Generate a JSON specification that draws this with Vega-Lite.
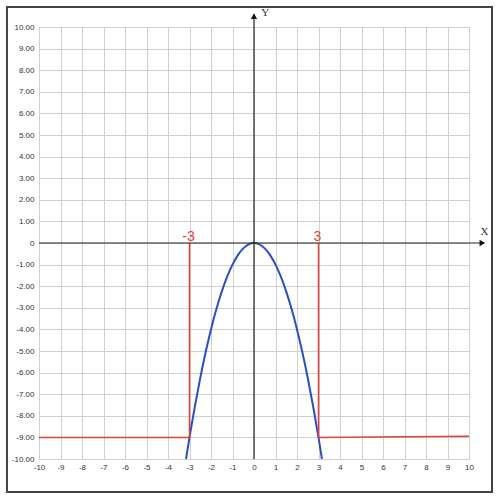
{
  "$schema": "https://vega.github.io/schema/vega-lite/v6.json",
  "width": 430,
  "height": 432,
  "autosize": {"type": "none"},
  "padding": {"left": 39, "top": 27, "right": 31, "bottom": 43},
  "background": "white",
  "config": {
    "view": {"stroke": "#d0d0d0"},
    "axis": {
      "labelFont": "Liberation Sans",
      "labelFontSize": 8,
      "labelColor": "#333",
      "labelOverlap": false,
      "labelFlush": false,
      "tickCount": 20,
      "ticks": false,
      "domain": false,
      "gridColor": "#d0d0d0",
      "gridWidth": 1,
      "title": null
    },
    "axisX": {
      "labelExpr": "(datum.value < 0 ? '-' : '') + abs(datum.value)",
      "labelPadding": 4
    },
    "axisY": {
      "labelExpr": "datum.value == 0 ? '0' : (datum.value < 0 ? '-' : '') + format(abs(datum.value), '.2f')",
      "labelPadding": 5
    }
  },
  "data": {"values": [{}]},
  "datasets": {
    "curve": [
      {"x": -3.16, "y": -10}, {"x": -3.0, "y": -9}, {"x": -2.75, "y": -7.56},
      {"x": -2.5, "y": -6.25}, {"x": -2.25, "y": -5.06}, {"x": -2.0, "y": -4},
      {"x": -1.75, "y": -3.06}, {"x": -1.5, "y": -2.25}, {"x": -1.25, "y": -1.56},
      {"x": -1.0, "y": -1}, {"x": -0.75, "y": -0.56}, {"x": -0.5, "y": -0.25},
      {"x": -0.25, "y": -0.06}, {"x": 0, "y": 0}, {"x": 0.25, "y": -0.06},
      {"x": 0.5, "y": -0.25}, {"x": 0.75, "y": -0.56}, {"x": 1.0, "y": -1},
      {"x": 1.25, "y": -1.56}, {"x": 1.5, "y": -2.25}, {"x": 1.75, "y": -3.06},
      {"x": 2.0, "y": -4}, {"x": 2.25, "y": -5.06}, {"x": 2.5, "y": -6.25},
      {"x": 2.75, "y": -7.56}, {"x": 3.0, "y": -9}, {"x": 3.16, "y": -10}
    ],
    "redlines": [
      {"seg": "left", "i": 1, "x": -10, "y": -9},
      {"seg": "left", "i": 2, "x": -3, "y": -9},
      {"seg": "left", "i": 3, "x": -3, "y": 0},
      {"seg": "right", "i": 1, "x": 3, "y": 0},
      {"seg": "right", "i": 2, "x": 3, "y": -9},
      {"seg": "right", "i": 3, "x": 10, "y": -8.95}
    ],
    "marks": [
      {"x": -3, "y": 0, "label": "-3"},
      {"x": 3, "y": 0, "label": "3"}
    ]
  },
  "layer": [
    {
      "data": {"name": "curve"},
      "mark": {"type": "line", "color": "#2b4fbf", "strokeWidth": 2, "interpolate": "monotone", "clip": true},
      "encoding": {
        "x": {
          "field": "x", "type": "quantitative",
          "scale": {"domain": [-10, 10], "nice": false, "zero": false}
        },
        "y": {
          "field": "y", "type": "quantitative",
          "scale": {"domain": [-10, 10], "nice": false, "zero": false}
        }
      }
    },
    {
      "data": {"name": "redlines"},
      "mark": {"type": "line", "color": "#e2403a", "strokeWidth": 1.5},
      "encoding": {
        "x": {"field": "x", "type": "quantitative"},
        "y": {"field": "y", "type": "quantitative"},
        "detail": {"field": "seg"},
        "order": {"field": "i"}
      }
    },
    {
      "mark": {"type": "rule", "color": "#222", "strokeWidth": 1.2, "clip": false},
      "encoding": {
        "x": {"datum": 0},
        "y": {"datum": -10},
        "y2": {"datum": 10.6}
      }
    },
    {
      "mark": {"type": "rule", "color": "#222", "strokeWidth": 1.2, "clip": false},
      "encoding": {
        "y": {"datum": 0},
        "x": {"datum": -10},
        "x2": {"datum": 10.7}
      }
    },
    {
      "mark": {"type": "point", "shape": "triangle-up", "filled": true, "color": "#111", "size": 40, "opacity": 1, "clip": false},
      "encoding": {"x": {"datum": 0}, "y": {"datum": 10.5}}
    },
    {
      "mark": {"type": "point", "shape": "triangle-right", "filled": true, "color": "#111", "size": 40, "opacity": 1, "clip": false},
      "encoding": {"x": {"datum": 10.62}, "y": {"datum": 0}}
    },
    {
      "mark": {"type": "text", "text": "Y", "font": "Liberation Serif", "fontSize": 11, "color": "#333", "clip": false},
      "encoding": {"x": {"datum": 0.52}, "y": {"datum": 10.65}}
    },
    {
      "mark": {"type": "text", "text": "X", "font": "Liberation Serif", "fontSize": 11, "color": "#333", "clip": false},
      "encoding": {"x": {"datum": 10.72}, "y": {"datum": 0.5}}
    },
    {
      "data": {"name": "marks"},
      "mark": {"type": "text", "color": "#e2403a", "fontSize": 14, "font": "Liberation Sans", "baseline": "alphabetic", "dy": -2, "dx": -1},
      "encoding": {
        "x": {"field": "x", "type": "quantitative"},
        "y": {"field": "y", "type": "quantitative"},
        "text": {"field": "label"}
      }
    },
    {
      "mark": {"type": "rect", "fill": null, "stroke": "#444", "strokeWidth": 2, "clip": false},
      "encoding": {
        "x": {"datum": -11.49},
        "x2": {"datum": 11.07},
        "y": {"datum": -11.53},
        "y2": {"datum": 10.93}
      }
    }
  ]
}
